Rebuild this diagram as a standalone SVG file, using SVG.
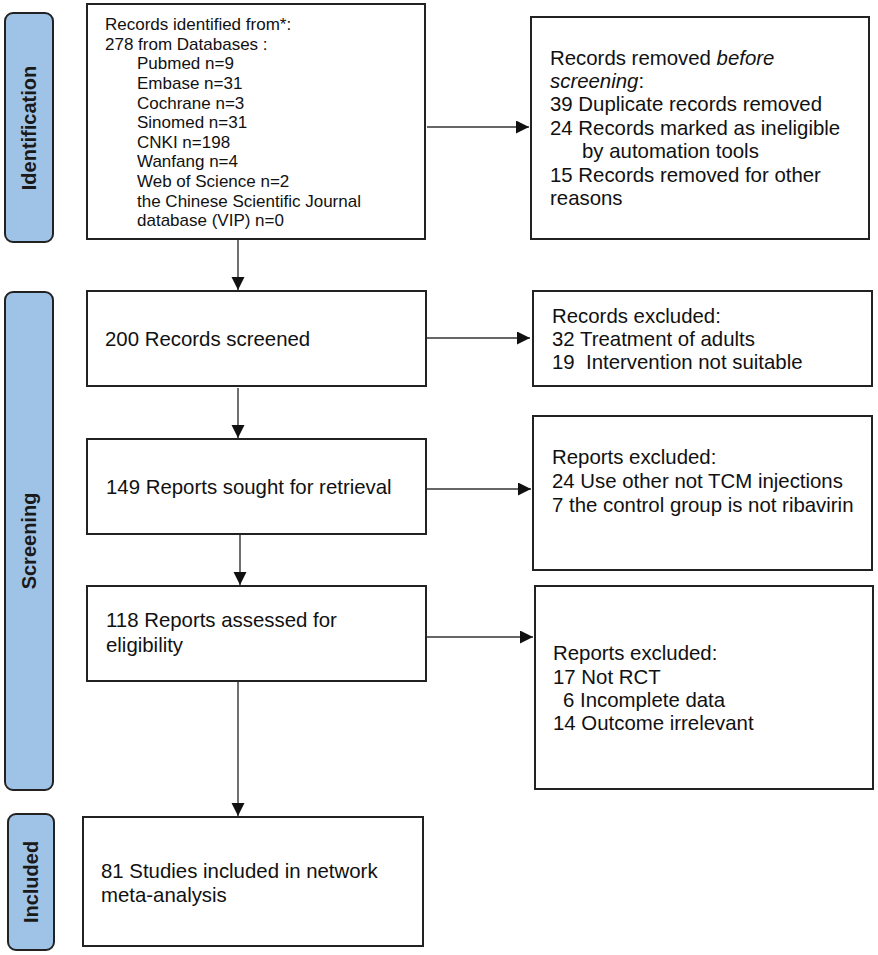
<svg xmlns="http://www.w3.org/2000/svg" width="878" height="955" viewBox="0 0 878 955">
<defs>
<marker id="arr" markerUnits="userSpaceOnUse" markerWidth="14" markerHeight="14" refX="13" refY="6.5" orient="auto">
<path d="M0,0 L13,6.5 L0,13 Z" fill="#111"/>
</marker>
</defs>
<style>
.box{fill:#fff;stroke:#222;stroke-width:2}
.bar{fill:#9fc3e7;stroke:#222;stroke-width:2}
.t{font-family:"Liberation Sans",Arial,sans-serif;font-size:20.4px;fill:#111}
.s{font-family:"Liberation Sans",Arial,sans-serif;font-size:17px;fill:#111}
.bt{font-family:"Liberation Sans",Arial,sans-serif;font-size:20px;font-weight:bold;fill:#1a1a1a}
.c{stroke:#333;stroke-width:1.4;fill:none;marker-end:url(#arr)}
</style>
<rect width="878" height="955" fill="#fff"/>
<g id="bar-identification">
<rect class="bar" x="5" y="13" width="48" height="229" rx="8"/>
<text class="bt" transform="translate(29,128) rotate(-90)" text-anchor="middle" dominant-baseline="central">Identification</text>
</g>
<g id="bar-screening">
<rect class="bar" x="5" y="292" width="48" height="498" rx="8"/>
<text class="bt" transform="translate(29,541) rotate(-90)" text-anchor="middle" dominant-baseline="central">Screening</text>
</g>
<g id="bar-included">
<rect class="bar" x="8" y="814" width="46" height="136" rx="8"/>
<text class="bt" transform="translate(31,882) rotate(-90)" text-anchor="middle" dominant-baseline="central">Included</text>
</g>
<g id="identified">
<rect class="box" x="87" y="4" width="338" height="235"/>
<text class="s" x="105" y="30">Records identified from*:</text>
<text class="s" x="105" y="50">278 from Databases :</text>
<text class="s" x="137" y="69">Pubmed n=9</text>
<text class="s" x="137" y="89">Embase n=31</text>
<text class="s" x="137" y="109">Cochrane n=3</text>
<text class="s" x="137" y="128">Sinomed n=31</text>
<text class="s" x="137" y="148">CNKI n=198</text>
<text class="s" x="137" y="167">Wanfang n=4</text>
<text class="s" x="137" y="187">Web of Science n=2</text>
<text class="s" x="137" y="207">the Chinese Scientific Journal</text>
<text class="s" x="137" y="226">database (VIP) n=0</text>
</g>
<g id="removed">
<rect class="box" x="531" y="17" width="338" height="222"/>
<text class="t" x="550" y="65">Records removed <tspan font-style="italic">before</tspan></text>
<text class="t" x="550" y="88"><tspan font-style="italic">screening</tspan>:</text>
<text class="t" x="550" y="111">39 Duplicate records removed</text>
<text class="t" x="550" y="135">24 Records marked as ineligible</text>
<text class="t" x="582" y="158">by automation tools</text>
<text class="t" x="550" y="182">15 Records removed for other</text>
<text class="t" x="550" y="205">reasons</text>
</g>
<g id="screened">
<rect class="box" x="87" y="291" width="339" height="95"/>
<text class="t" x="105" y="346">200 Records screened</text>
</g>
<g id="excluded1">
<rect class="box" x="533" y="291" width="339" height="95"/>
<text class="t" x="552" y="323">Records excluded:</text>
<text class="t" x="552" y="346">32 Treatment of adults</text>
<text class="t" x="552" y="369" xml:space="preserve">19  Intervention not suitable</text>
</g>
<g id="sought">
<rect class="box" x="87" y="439" width="339" height="95"/>
<text class="t" x="106" y="494">149 Reports sought for retrieval</text>
</g>
<g id="excluded2">
<rect class="box" x="533" y="416" width="339" height="154"/>
<text class="t" x="552" y="464">Reports excluded:</text>
<text class="t" x="552" y="488">24 Use other not TCM injections</text>
<text class="t" x="552" y="512">7 the control group is not ribavirin</text>
</g>
<g id="assessed">
<rect class="box" x="87" y="586" width="339" height="95"/>
<text class="t" x="106" y="627">118 Reports assessed for</text>
<text class="t" x="106" y="652">eligibility</text>
</g>
<g id="excluded3">
<rect class="box" x="535" y="586" width="338" height="203"/>
<text class="t" x="553" y="660">Reports excluded:</text>
<text class="t" x="553" y="684">17 Not RCT</text>
<text class="t" x="563" y="707">6 Incomplete data</text>
<text class="t" x="553" y="730">14 Outcome irrelevant</text>
</g>
<g id="included">
<rect class="box" x="83" y="817" width="340" height="129"/>
<text class="t" x="101" y="878">81 Studies included in network</text>
<text class="t" x="101" y="902">meta-analysis</text>
</g>
<g id="connectors">
<line class="c" x1="427" y1="127" x2="529" y2="127"/>
<line class="c" x1="238" y1="240" x2="238" y2="290"/>
<line class="c" x1="427" y1="338" x2="530" y2="338"/>
<line class="c" x1="238" y1="388" x2="238" y2="438"/>
<line class="c" x1="427" y1="489" x2="531" y2="489"/>
<line class="c" x1="240" y1="535" x2="240" y2="585"/>
<line class="c" x1="427" y1="637" x2="533" y2="637"/>
<line class="c" x1="238" y1="682" x2="238" y2="816"/>
</g>
</svg>
